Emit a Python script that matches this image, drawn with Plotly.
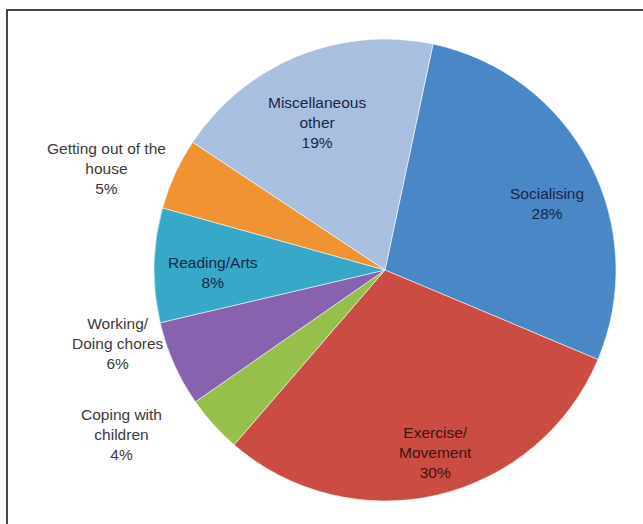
import plotly.graph_objects as go

categories = ["Socialising", "Exercise/ Movement", "Coping with children",
              "Working/ Doing chores", "Reading/Arts", "Getting out of the house",
              "Miscellaneous other"]
values = [28, 30, 4, 6, 8, 5, 19]
label_lines = [["Socialising"], ["Exercise/", "Movement"], ["Coping with", "children"],
               ["Working/", "Doing chores"], ["Reading/Arts"], ["Getting out of the", "house"],
               ["Miscellaneous", "other"]]
colors = ["#4A87C6", "#CB4C42", "#96BF4B", "#8762AE", "#37A8C8", "#F09433", "#A8BFDF"]
text_colors = ["#18264A", "#3E1410", "#3A3A3A", "#3A3A3A", "#18264A", "#3A3A3A", "#18264A"]
# label anchor positions in paper fraction (layout only)
label_pos = [(547 / 643, 1 - 203 / 524), (435 / 643, 1 - 452 / 524), (121 / 643, 1 - 434 / 524),
             (118 / 643, 1 - 343 / 524), (213 / 643, 1 - 272 / 524), (106 / 643, 1 - 168 / 524),
             (317 / 643, 1 - 122 / 524)]

cx, cy, r = 385, 270, 231
W, H = 643, 524

fig = go.Figure(go.Pie(
    labels=categories,
    values=values,
    sort=False,
    direction="clockwise",
    rotation=12,
    marker=dict(colors=colors, line=dict(color="rgba(255,255,255,0.55)", width=1)),
    textinfo="none",
    hoverinfo="skip",
    showlegend=False,
    domain=dict(x=[(cx - r) / W, (cx + r) / W], y=[1 - (cy + r) / H, 1 - (cy - r) / H]),
))

annotations = []
for lines, v, col, (ax, ay) in zip(label_lines, values, text_colors, label_pos):
    annotations.append(dict(
        x=ax, y=ay, xref="paper", yref="paper", xanchor="center", yanchor="middle",
        text="<br>".join(lines + [f"{v}%"]), showarrow=False, align="center",
        font=dict(family="Liberation Sans, Arial, sans-serif", size=15.5, color=col),
    ))

fig.update_layout(
    width=W, height=H,
    margin=dict(l=0, r=0, t=0, b=0),
    paper_bgcolor="white", plot_bgcolor="white",
    annotations=annotations,
    shapes=[
        dict(type="line", xref="paper", yref="paper", x0=6 / W, x1=1, y0=1 - 10 / H, y1=1 - 10 / H,
             line=dict(color="#444444", width=2)),
        dict(type="line", xref="paper", yref="paper", x0=7 / W, x1=7 / W, y0=0, y1=1 - 10 / H,
             line=dict(color="#444444", width=2)),
    ],
)

fig.write_html("out.html")
